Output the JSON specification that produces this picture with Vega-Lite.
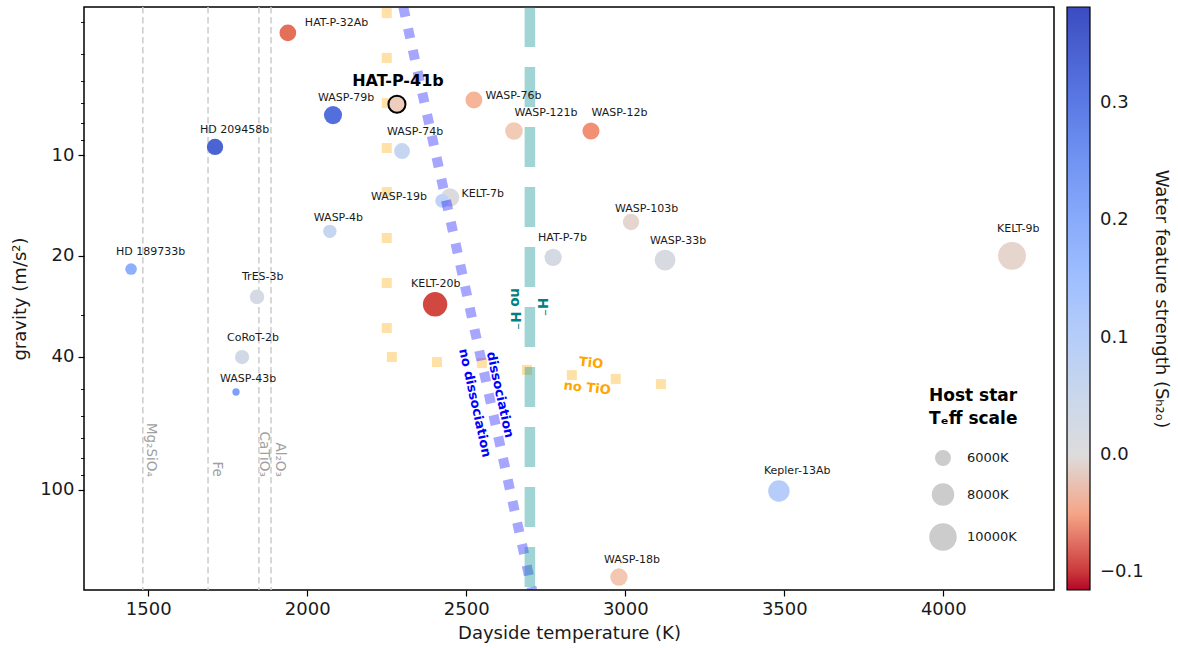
{
  "$schema": "https://vega.github.io/schema/vega-lite/v6.json",
  "width": 970,
  "height": 583,
  "autosize": {"type": "none"},
  "padding": {"left": 84, "top": 7, "right": 124, "bottom": 58},
  "background": "white",
  "config": {
    "font": "DejaVu Sans",
    "view": {"stroke": "black", "strokeWidth": 1.5},
    "axis": {
      "labelFont": "DejaVu Sans", "labelFontSize": 18, "labelColor": "#1a1a1a",
      "titleFont": "DejaVu Sans", "titleFontSize": 18, "titleFontWeight": "normal", "titleColor": "#1a1a1a",
      "tickColor": "black", "tickWidth": 1.2, "tickSize": 6, "domain": false, "grid": false, "labelPadding": 4
    },
    "legend": {"padding": 0}
  },
  "datasets": {
    "planets": [
      {"name": "HAT-P-32Ab", "t": 1939, "g": 4.32, "s": -0.078, "teff": 6200},
      {"name": "HAT-P-41b", "t": 2282, "g": 7.05, "s": -0.02, "teff": 6300},
      {"name": "WASP-79b", "t": 2081, "g": 7.6, "s": 0.32, "teff": 6600},
      {"name": "HD 209458b", "t": 1710, "g": 9.46, "s": 0.34, "teff": 6100},
      {"name": "WASP-74b", "t": 2298, "g": 9.73, "s": 0.06, "teff": 6000},
      {"name": "WASP-76b", "t": 2524, "g": 6.85, "s": -0.04, "teff": 6250},
      {"name": "WASP-121b", "t": 2650, "g": 8.48, "s": -0.023, "teff": 6460},
      {"name": "WASP-12b", "t": 2892, "g": 8.48, "s": -0.062, "teff": 6300},
      {"name": "KELT-7b", "t": 2449, "g": 13.4, "s": 0.005, "teff": 6700},
      {"name": "WASP-19b", "t": 2424, "g": 13.7, "s": 0.08, "teff": 5500},
      {"name": "WASP-4b", "t": 2071, "g": 16.9, "s": 0.06, "teff": 5400},
      {"name": "HD 189733b", "t": 1446, "g": 21.9, "s": 0.19, "teff": 5050},
      {"name": "WASP-103b", "t": 3018, "g": 15.85, "s": -0.008, "teff": 6100},
      {"name": "HAT-P-7b", "t": 2773, "g": 20.2, "s": 0.025, "teff": 6350},
      {"name": "WASP-33b", "t": 3125, "g": 20.6, "s": 0.015, "teff": 7400},
      {"name": "KELT-9b", "t": 4216, "g": 20.0, "s": -0.01, "teff": 10170},
      {"name": "KELT-20b", "t": 2402, "g": 27.9, "s": -0.095, "teff": 8720},
      {"name": "TrES-3b", "t": 1842, "g": 26.5, "s": 0.025, "teff": 5650},
      {"name": "CoRoT-2b", "t": 1795, "g": 40.1, "s": 0.03, "teff": 5600},
      {"name": "WASP-43b", "t": 1776, "g": 51.0, "s": 0.225, "teff": 4400},
      {"name": "Kepler-13Ab", "t": 3483, "g": 100.7, "s": 0.1, "teff": 7650},
      {"name": "WASP-18b", "t": 2980, "g": 182, "s": -0.025, "teff": 6400}
    ],
    "cond": [
      {"label": "Mg₂SiO₄", "t": 1483},
      {"label": "Fe", "t": 1688},
      {"label": "CaTiO₃", "t": 1848},
      {"label": "Al₂O₃", "t": 1886}
    ],
    "tio": [
      {"t": 2250, "g": 3.77}, {"t": 2250, "g": 5.13}, {"t": 2250, "g": 7.0}, {"t": 2250, "g": 9.53},
      {"t": 2250, "g": 12.9}, {"t": 2250, "g": 17.69}, {"t": 2250, "g": 24.11}, {"t": 2250, "g": 32.85},
      {"t": 2266, "g": 40.1}, {"t": 2408, "g": 41.5}, {"t": 2549, "g": 41.8}, {"t": 2691, "g": 43.8},
      {"t": 2832, "g": 45.4}, {"t": 2970, "g": 46.6}, {"t": 3112, "g": 48.3}
    ],
    "dissoc": [{"t": 2302, "g": 3.615}, {"t": 2707, "g": 198.9}],
    "hline": [{"t": 2700, "g": 3.615}, {"t": 2700, "g": 198.9}],
    "htext": [{"label": "no H⁻", "t": 2653, "g": 28.8}, {"label": "H⁻", "t": 2738, "g": 28.4}],
    "dtext": [{"label": "dissociation", "t": 2606, "g": 52.0}, {"label": "no dissociation", "t": 2527, "g": 55.0}],
    "ttext": [{"label": "TiO", "t": 2892, "g": 41.8}, {"label": "no TiO", "t": 2880, "g": 49.6}]
  },
  "layer": [
    {
      "layer": [
        {
          "data": {"name": "cond"},
          "mark": {"type": "rule", "stroke": "#cccccc", "strokeWidth": 1.5, "strokeDash": [6.5, 3.5]},
          "encoding": {
            "x": {"field": "t", "type": "quantitative", "scale": {"domain": [1298, 4348], "nice": false, "zero": false},
              "axis": {"title": "Dayside temperature (K)", "values": [1500, 2000, 2500, 3000, 3500, 4000], "format": "d", "titlePadding": 6}}
          }
        },
        {
          "data": {"name": "cond"},
          "transform": [{"filter": "datum.label !== 'CaTiO₃'"}],
          "mark": {"type": "text", "angle": 90, "align": "right", "baseline": "alphabetic", "dy": -4.5, "fontSize": 13.5, "color": "#a0a0a0"},
          "encoding": {
            "x": {"field": "t", "type": "quantitative", "scale": {"domain": [1298, 4348], "nice": false, "zero": false},
              "axis": {"title": "Dayside temperature (K)", "values": [1500, 2000, 2500, 3000, 3500, 4000], "format": "d", "titlePadding": 6}},
            "y": {"datum": 91.4, "type": "quantitative", "scale": {"type": "log", "domain": [3.615, 198.9], "reverse": true, "nice": false},
              "axis": {
                "title": "gravity (m/s²)",
                "values": [4, 5, 6, 7, 8, 9, 10, 20, 30, 40, 50, 60, 70, 80, 90, 100],
                "labelExpr": "indexof([10, 20, 40, 100], datum.value) >= 0 ? datum.label : ''",
                "tickSize": {"condition": {"test": "indexof([10, 20, 40, 100], datum.value) >= 0", "value": 6}, "value": 3.5},
                "tickWidth": {"condition": {"test": "indexof([10, 20, 40, 100], datum.value) >= 0", "value": 1.2}, "value": 0.9},
                "format": "d", "labelOverlap": false, "labelFlush": false, "titlePadding": 10
              }},
            "text": {"field": "label"}
          }
        },
        {
          "data": {"name": "cond"},
          "transform": [{"filter": "datum.label === 'CaTiO₃'"}],
          "mark": {"type": "text", "angle": 90, "align": "right", "baseline": "alphabetic", "dy": -1.5, "fontSize": 13.5, "color": "#a0a0a0"},
          "encoding": {
            "x": {"field": "t", "type": "quantitative", "scale": {"domain": [1298, 4348], "nice": false, "zero": false},
              "axis": {"title": "Dayside temperature (K)", "values": [1500, 2000, 2500, 3000, 3500, 4000], "format": "d", "titlePadding": 6}},
            "y": {"datum": 91.4, "type": "quantitative", "scale": {"type": "log", "domain": [3.615, 198.9], "reverse": true, "nice": false},
              "axis": {
                "title": "gravity (m/s²)",
                "values": [4, 5, 6, 7, 8, 9, 10, 20, 30, 40, 50, 60, 70, 80, 90, 100],
                "labelExpr": "indexof([10, 20, 40, 100], datum.value) >= 0 ? datum.label : ''",
                "tickSize": {"condition": {"test": "indexof([10, 20, 40, 100], datum.value) >= 0", "value": 6}, "value": 3.5},
                "tickWidth": {"condition": {"test": "indexof([10, 20, 40, 100], datum.value) >= 0", "value": 1.2}, "value": 0.9},
                "format": "d", "labelOverlap": false, "labelFlush": false, "titlePadding": 10
              }},
            "text": {"field": "label"}
          }
        }
      ]
    },
    {
      "encoding": {
        "x": {"field": "t", "type": "quantitative", "scale": {"domain": [1298, 4348], "nice": false, "zero": false},
          "axis": {"title": "Dayside temperature (K)", "values": [1500, 2000, 2500, 3000, 3500, 4000], "format": "d", "titlePadding": 6}},
        "y": {"field": "g", "type": "quantitative", "scale": {"type": "log", "domain": [3.615, 198.9], "reverse": true, "nice": false},
          "axis": {
            "title": "gravity (m/s²)",
            "values": [4, 5, 6, 7, 8, 9, 10, 20, 30, 40, 50, 60, 70, 80, 90, 100],
            "labelExpr": "indexof([10, 20, 40, 100], datum.value) >= 0 ? datum.label : ''",
            "tickSize": {"condition": {"test": "indexof([10, 20, 40, 100], datum.value) >= 0", "value": 6}, "value": 3.5},
            "tickWidth": {"condition": {"test": "indexof([10, 20, 40, 100], datum.value) >= 0", "value": 1.2}, "value": 0.9},
            "format": "d", "labelOverlap": false, "labelFlush": false, "titlePadding": 10
          }}
      },
      "layer": [
        {
          "data": {"name": "tio"},
          "mark": {"type": "point", "shape": "square", "filled": true, "size": 100, "color": "orange", "opacity": 0.35, "strokeWidth": 0, "clip": true}
        },
        {
          "data": {"name": "planets"},
          "mark": {"type": "circle", "opacity": 1, "stroke": "black"},
          "encoding": {
            "color": {"field": "s", "type": "quantitative",
              "scale": {
                "domain": [-0.115, -0.092, -0.069, -0.046, -0.023, 0, 0.0764, 0.1528, 0.2292, 0.3056, 0.382],
                "range": ["#b40426", "#d65244", "#ee8468", "#f7ac8e", "#f2cbb7", "#dddcdc", "#c0d4f5", "#9ebeff", "#7b9ff9", "#5977e3", "#3b4cc0"],
                "interpolate": "rgb"
              },
              "legend": {
                "orient": "none", "legendX": 983, "legendY": 0, "direction": "vertical",
                "gradientLength": 583, "gradientThickness": 23,
                "gradientStrokeColor": "black", "gradientStrokeWidth": 1.2,
                "values": [-0.1, 0, 0.1, 0.2, 0.3], "format": ".1f",
                "labelFontSize": 18, "labelColor": "#1a1a1a", "labelOffset": 10, "labelOverlap": false,
                "title": "Water feature strength (Sₕ₂ₒ)", "titleOrient": "right", "titleAngle": 90,
                "titleAnchor": "middle", "titleAlign": "center", "titleBaseline": "bottom", "titleLimit": 1000,
                "titleFontSize": 18, "titleFontWeight": "normal", "titleColor": "#1a1a1a", "titlePadding": 8
              }},
            "size": {"field": "teff", "type": "quantitative",
              "scale": {"domain": [6000, 10000], "range": [254, 755]},
              "legend": {
                "orient": "none", "legendX": 845, "legendY": 381,
                "title": ["Host star", "Tₑff  scale"], "titleFontSize": 17, "titleFontWeight": "bold", "titleColor": "black",
                "titleLineHeight": 23, "titlePadding": 22,
                "values": [6000, 8000, 10000], "labelExpr": "datum.value + 'K'",
                "labelFontSize": 13, "labelColor": "#1a1a1a", "labelOffset": 10,
                "symbolType": "circle", "symbolFillColor": "#cccccc", "symbolStrokeWidth": 0, "symbolOpacity": 1,
                "rowPadding": 17
              }},
            "strokeWidth": {"condition": {"test": "datum.name === 'HAT-P-41b'", "value": 2}, "value": 0}
          }
        },
        {
          "data": {"name": "dissoc"},
          "mark": {"type": "line", "stroke": "blue", "strokeOpacity": 0.35, "strokeWidth": 10, "strokeDash": [10, 12], "strokeCap": "butt", "clip": true},
          "encoding": {"order": {"field": "g", "type": "quantitative"}}
        },
        {
          "data": {"name": "hline"},
          "mark": {"type": "line", "stroke": "#008b8b", "strokeOpacity": 0.37, "strokeWidth": 10.5, "strokeDash": [40, 20], "strokeCap": "butt", "clip": true},
          "encoding": {"order": {"field": "g", "type": "quantitative"}}
        },
        {
          "data": {"name": "planets"},
          "transform": [{"filter": {"field": "name", "oneOf": ["WASP-79b", "HD 209458b", "HD 189733b", "WASP-18b"]}}],
          "mark": {"type": "text", "align": "left", "baseline": "middle", "dx": -15, "dy": -17, "fontSize": 11, "color": "#1a1a1a"},
          "encoding": {"text": {"field": "name"}}
        },
        {
          "data": {"name": "planets"},
          "transform": [{"filter": {"field": "name", "oneOf": ["WASP-74b", "HAT-P-7b", "WASP-33b", "TrES-3b", "CoRoT-2b", "Kepler-13Ab"]}}],
          "mark": {"type": "text", "align": "left", "baseline": "middle", "dx": -15, "dy": -19.5, "fontSize": 11, "color": "#1a1a1a"},
          "encoding": {"text": {"field": "name"}}
        },
        {
          "data": {"name": "planets"},
          "transform": [{"filter": {"field": "name", "oneOf": ["WASP-4b", "WASP-43b", "WASP-103b"]}}],
          "mark": {"type": "text", "align": "left", "baseline": "middle", "dx": -16, "dy": -13.5, "fontSize": 11, "color": "#1a1a1a"},
          "encoding": {"text": {"field": "name"}}
        },
        {
          "data": {"name": "planets"},
          "transform": [{"filter": {"field": "name", "oneOf": ["KELT-20b"]}}],
          "mark": {"type": "text", "align": "left", "baseline": "middle", "dx": -24, "dy": -20, "fontSize": 11, "color": "#1a1a1a"},
          "encoding": {"text": {"field": "name"}}
        },
        {
          "data": {"name": "planets"},
          "transform": [{"filter": {"field": "name", "oneOf": ["KELT-9b"]}}],
          "mark": {"type": "text", "align": "left", "baseline": "middle", "dx": -15, "dy": -27, "fontSize": 11, "color": "#1a1a1a"},
          "encoding": {"text": {"field": "name"}}
        },
        {
          "data": {"name": "planets"},
          "transform": [{"filter": {"field": "name", "oneOf": ["HAT-P-32Ab"]}}],
          "mark": {"type": "text", "align": "left", "baseline": "middle", "dx": 17, "dy": -10, "fontSize": 11, "color": "#1a1a1a"},
          "encoding": {"text": {"field": "name"}}
        },
        {
          "data": {"name": "planets"},
          "transform": [{"filter": {"field": "name", "oneOf": ["WASP-121b", "WASP-12b"]}}],
          "mark": {"type": "text", "align": "left", "baseline": "middle", "dx": 0.5, "dy": -18, "fontSize": 11, "color": "#1a1a1a"},
          "encoding": {"text": {"field": "name"}}
        },
        {
          "data": {"name": "planets"},
          "transform": [{"filter": {"field": "name", "oneOf": ["WASP-76b", "KELT-7b"]}}],
          "mark": {"type": "text", "align": "left", "baseline": "middle", "dx": 11.5, "dy": -3.5, "fontSize": 11, "color": "#1a1a1a"},
          "encoding": {"text": {"field": "name"}}
        },
        {
          "data": {"name": "planets"},
          "transform": [{"filter": {"field": "name", "oneOf": ["WASP-19b"]}}],
          "mark": {"type": "text", "align": "right", "baseline": "middle", "dx": -15, "dy": -4, "fontSize": 11, "color": "#1a1a1a"},
          "encoding": {"text": {"field": "name"}}
        },
        {
          "data": {"name": "planets"},
          "transform": [{"filter": {"field": "name", "oneOf": ["HAT-P-41b"]}}],
          "mark": {"type": "text", "align": "center", "baseline": "middle", "dx": 1, "dy": -23, "fontSize": 16, "fontWeight": "bold", "color": "black"},
          "encoding": {"text": {"field": "name"}}
        },
        {
          "data": {"name": "htext"},
          "mark": {"type": "text", "angle": 90, "align": "center", "baseline": "middle", "fontSize": 13.5, "fontWeight": "bold", "color": "teal"},
          "encoding": {"text": {"field": "label"}}
        },
        {
          "data": {"name": "dtext"},
          "mark": {"type": "text", "angle": 77.6, "align": "center", "baseline": "middle", "fontSize": 13, "fontWeight": "bold", "color": "blue"},
          "encoding": {"text": {"field": "label"}}
        },
        {
          "data": {"name": "ttext"},
          "mark": {"type": "text", "angle": 6, "align": "center", "baseline": "middle", "fontSize": 13, "fontWeight": "bold", "color": "orange"},
          "encoding": {"text": {"field": "label"}}
        }
      ]
    }
  ]
}
